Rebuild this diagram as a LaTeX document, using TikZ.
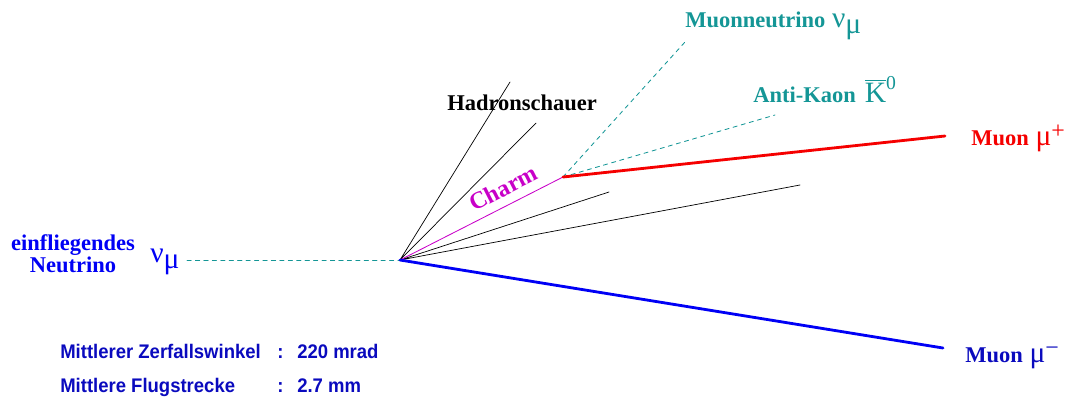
\documentclass[tikz,border=0pt]{standalone}
\usepackage{fontspec}
\setmainfont{Liberation Serif}
\newfontfamily\infofont[FakeStretch=0.94]{Liberation Sans}
\definecolor{TrackTeal}{RGB}{20,150,150}
\definecolor{TrackBlue}{RGB}{0,0,245}
\definecolor{TextBlue}{RGB}{10,10,190}
\definecolor{TrackRed}{RGB}{245,0,0}
\definecolor{CharmMagenta}{RGB}{200,0,200}
\newcommand{\numu}{{\fontsize{21}{21}\selectfont\mdseries ν\raisebox{-.45ex}{μ}}}
\newcommand{\greekfont}{\fontsize{21}{21}\selectfont\mdseries}

\begin{document}
\begin{tikzpicture}[x=0.025cm,y=-0.025cm,line cap=round,line join=round,
    lbl/.style={font=\fontsize{16}{15}\selectfont\bfseries,inner sep=0pt},
    info/.style={font=\infofont\fontsize{14}{14}\selectfont\bfseries,text=TextBlue,inner sep=0pt,anchor=base west},
    hadron/.style={black,line width=.5pt},
    neutral/.style={TrackTeal,line width=.6pt,dash pattern=on 3pt off 3pt}]
  \useasboundingbox (0,0) rectangle (1071,404);
  % vertices and track ends
  \coordinate (V) at (400,260);\coordinate (C) at (563,177);\coordinate (In) at (187,260);
  \coordinate (H1) at (510,82);\coordinate (H2) at (536,123);\coordinate (H3) at (609,192);\coordinate (H4) at (800,185);
  \coordinate (MuP) at (945,136);\coordinate (MuM) at (943,348);\coordinate (Nu) at (685,42);\coordinate (K) at (775,115);
  % tracks
  \draw[neutral] (In)--(V);
  \draw[hadron] (V)--(H1) (V)--(H2) (V)--(H3) (V)--(H4);
  \draw[CharmMagenta,line width=.6pt] (V)--(C);
  \draw[neutral] (C)--(Nu) (C)--(K);
  \draw[TrackRed,line width=2pt] (C)--(MuP);
  \draw[TrackBlue,line width=2pt] (V)--(MuM);
  % labels
  \node[lbl,text=CharmMagenta,rotate=27,font=\fontsize{17}{15}\selectfont\bfseries] (charm) at (503,188) {Charm};
  \node[lbl,anchor=base west] (hadr) at (447,110) {Hadronschauer};
  \node[lbl,anchor=base west,text=TrackTeal] (nulbl) at (685,27) {Muonneutrino\hspace{.3em}\numu};
  \node[lbl,anchor=base west,text=TrackTeal] (klbl) at (753,102) {Anti-Kaon\hspace{.4em}{\greekfont$\overline{\hbox{\greekfont K}}$\raisebox{.9ex}{\fontsize{14}{14}\selectfont 0}}};
  \node[lbl,anchor=base west,text=TrackRed] (mplbl) at (971,145) {Muon\hspace{.3em}{\greekfont μ\raisebox{.45ex}{\fontsize{17}{17}\selectfont +}}};
  \node[lbl,anchor=base west,text=TextBlue] (mmlbl) at (965,362) {Muon\hspace{.3em}{\greekfont μ\raisebox{.45ex}{\fontsize{17}{17}\selectfont −}}};
  \node[lbl,text=TrackBlue,align=center,anchor=base] (inlbl) at (73,272) {einfliegendes\\Neutrino};
  \node[lbl,text=TrackBlue,anchor=base west] (innu) at (150,262) {\numu};
  % decay info
  \node[info] (w1) at (60,358) {Mittlerer Zerfallswinkel};
  \node[info] (w2) at (277,358) {:};\node[info] (w3) at (297,358) {220 mrad};
  \node[info] (f1) at (60,392) {Mittlere Flugstrecke};
  \node[info] (f2) at (277,392) {:};\node[info] (f3) at (297,392) {2.7 mm};
\end{tikzpicture}
\end{document}
